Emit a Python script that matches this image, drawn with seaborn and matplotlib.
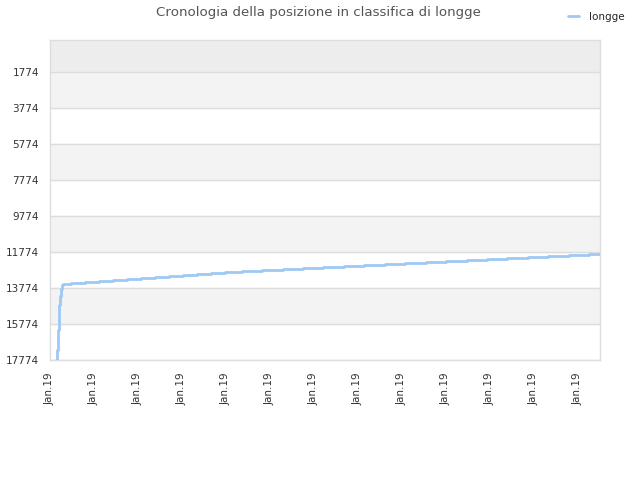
import matplotlib
matplotlib.use('Agg')
import matplotlib.pyplot as plt
import pandas as pd
import seaborn as sns

# days since start of the period, and rank position
days = [0.27, 0.32, 0.35, 0.39, 0.43, 0.46, 0.51, 0.55, 0.61,
        0.95, 1.59, 2.23, 2.86, 3.50, 4.14, 4.77, 5.41, 6.05, 6.68,
        7.32, 7.95, 8.73, 9.64, 10.59, 11.50, 12.41, 13.36, 14.27, 15.23,
        16.14, 17.09, 18.00, 18.95, 19.86, 20.77, 21.73, 22.64, 23.59,
        24.50, 25.00]
rank = [17774, 17218, 16107, 15441, 14718, 14218, 13829, 13607, 13535,
        13480, 13425, 13370, 13315, 13262, 13205, 13150, 13095, 13040, 12985,
        12930, 12875, 12820, 12765, 12710, 12655, 12600, 12545, 12490, 12435,
        12380, 12325, 12270, 12215, 12160, 12105, 12050, 11995, 11940,
        11885, 11885]
yticks = [1774, 3774, 5774, 7774, 9774, 11774, 13774, 15774, 17774]
xticks = [0, 2, 4, 6, 8, 10, 12, 14, 16, 18, 20, 22, 24]
xlabels = ['Jan.19'] * len(xticks)

df = pd.DataFrame({'giorno': days, 'posizione': rank})

sns.set_style('white')
plt.rcParams['font.family'] = ['DejaVu Sans']

fig = plt.figure(figsize=(6.4, 4.8), dpi=100)
ax = fig.add_axes([50/640, 120/480, 550/640, 320/480])

# alternating bands between gridlines
ax.axhspan(0, 1774, color='#ededed', zorder=0)
for i in range(len(yticks) - 1):
    if i % 2 == 0:
        ax.axhspan(yticks[i], yticks[i + 1], color='#f3f3f3', zorder=0)
for t in yticks:
    ax.axhline(t, color='#dddddd', lw=1, zorder=1)

sns.lineplot(data=df, x='giorno', y='posizione', ax=ax, color='#9ec9f5',
             lw=2, drawstyle='steps-post', label='longge', zorder=3)

ax.set_xlim(0, 25)
ax.set_ylim(17774, 0)
ax.set_yticks(yticks)
ax.set_yticklabels([str(t) for t in yticks])
ax.set_xticks(xticks)
ax.set_xticklabels(xlabels, rotation=90)
ax.tick_params(axis='both', length=0, labelsize=7.5, labelcolor='#333333')
ax.tick_params(axis='y', pad=8)
ax.tick_params(axis='x', pad=9)
ax.set_xlabel('')
ax.set_ylabel('')
for s in ax.spines.values():
    s.set_color('#dddddd')
    s.set_linewidth(1)

fig.suptitle('Cronologia della posizione in classifica di longge',
             x=0.497, y=0.988, fontsize=9.6, color='#555555')

ax.get_legend().remove()
fig.legend(loc='upper right', bbox_to_anchor=(0.99, 0.995), frameon=False,
           fontsize=7.5, handlelength=1.1, handletextpad=0.9)

fig.savefig('out.png', dpi=100)
